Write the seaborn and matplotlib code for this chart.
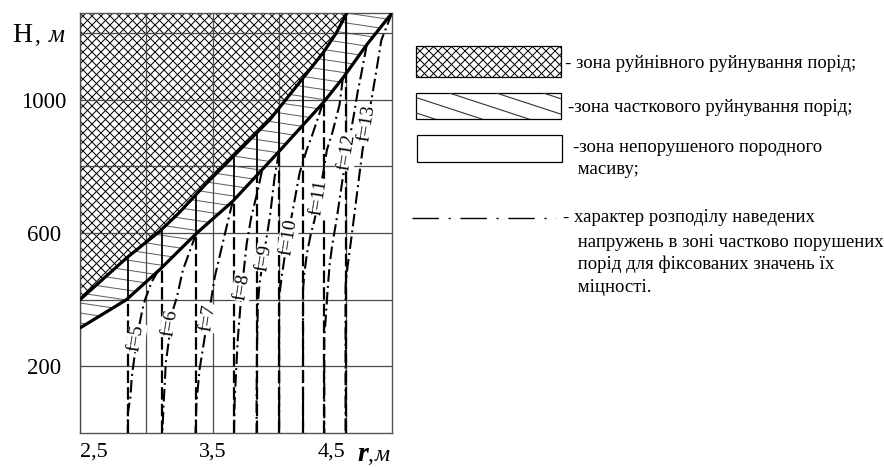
import numpy as np
import matplotlib
matplotlib.use("Agg")
import matplotlib.pyplot as plt
import matplotlib.transforms as mtransforms
from matplotlib.patches import Rectangle, PathPatch
from matplotlib.lines import Line2D
import seaborn as sns

# ---------------- data ----------------
# boundary of the zone of destructive failure (upper thick curve)
upper_r = [2.5, 2.85, 3.1, 3.25, 3.45, 3.68, 3.93, 4.15, 4.33, 4.43, 4.51]
upper_H = [400, 525, 605, 662, 748, 840, 940, 1050, 1140, 1200, 1260]
# boundary of the zone of partial failure (lower thick curve)
lower_r = [2.5, 2.85, 3.1, 3.38, 3.65, 4.0, 4.33, 4.48, 4.66, 4.85]
lower_H = [315, 400, 490, 600, 695, 845, 990, 1065, 1165, 1260]

# vertical lines: radius, height where lower boundary is crossed, height of upper boundary
vert_r = [2.86, 3.12, 3.37, 3.66, 3.83, 4.0, 4.18, 4.34, 4.5]
vert_low = [400, 495, 597, 700, 772, 845, 924, 993, 1075]
vert_top = [525, 613, 712, 832, 900, 972, 1065, 1146, 1252]

# stress distribution curves for fixed strength f
f_names = ["f=5", "f=6", "f=7", "f=8", "f=9", "f=10", "f=11", "f=12", "f=13"]
f5_r = [3.09, 3.04, 2.99, 2.97, 2.94, 2.91, 2.89, 2.88, 2.86, 2.86]
f5_H = [488, 453, 400, 370, 310, 228, 168, 108, 60, 0]
f6_r = [3.375, 3.33, 3.275, 3.23, 3.20, 3.146, 3.14, 3.13, 3.12]
f6_H = [598, 549, 489, 408, 369, 210, 159, 90, 0]
f7_r = [3.65, 3.59, 3.515, 3.49, 3.44, 3.40, 3.377, 3.37]
f7_H = [695, 595, 468, 405, 289, 189, 90, 0]
f8_r = [3.87, 3.84, 3.79, 3.756, 3.718, 3.688, 3.665, 3.66]
f8_H = [785, 729, 648, 570, 429, 279, 99, 0]
f9_r = [4.0, 3.966, 3.93, 3.89, 3.853, 3.84, 3.833, 3.83, 3.83]
f9_H = [845, 768, 648, 549, 450, 390, 250, 100, 0]
f10_r = [4.33, 4.244, 4.207, 4.154, 4.117, 4.079, 4.041, 4.016, 4.0, 4.0]
f10_H = [990, 888, 849, 780, 699, 618, 528, 459, 408, 0]
f11_r = [4.48, 4.455, 4.40, 4.36, 4.315, 4.267, 4.24, 4.21, 4.19, 4.18, 4.18]
f11_H = [1065, 985, 900, 850, 740, 640, 600, 540, 480, 430, 0]
f12_r = [4.66, 4.62, 4.59, 4.56, 4.515, 4.477, 4.432, 4.40, 4.38, 4.365, 4.35, 4.34, 4.34]
f12_H = [1165, 1080, 1020, 948, 849, 759, 639, 564, 504, 429, 339, 288, 0]
f13_r = [4.85, 4.77, 4.733, 4.695, 4.628, 4.583, 4.545, 4.515, 4.5, 4.5]
f13_H = [1260, 1179, 1089, 999, 849, 708, 588, 498, 444, 0]
f_curves = [(f5_r, f5_H), (f6_r, f6_H), (f7_r, f7_H), (f8_r, f8_H), (f9_r, f9_H),
            (f10_r, f10_H), (f11_r, f11_H), (f12_r, f12_H), (f13_r, f13_H)]
# label anchor on each curve
f_lab_r = [2.925, 3.18, 3.465, 3.72, 3.89, 4.07, 4.30, 4.512, 4.664]
f_lab_H = [285, 330, 345, 438, 525, 588, 708, 843, 930]

x_ticks = [2.5, 3.0, 3.5, 4.0, 4.5]
x_ticklabels = ["2,5", "", "3,5", "", "4,5"]
y_ticks = [200, 400, 600, 800, 1000, 1200]
y_ticklabels = ["200", "", "600", "", "1000", ""]

legend_texts = [
    ["- зона руйнівного руйнування порід;"],
    ["-зона часткового руйнування порід;"],
    ["-зона непорушеного породного", " масиву;"],
    ["- характер розподілу наведених", " напружень в зоні частково порушених",
     " порід для фіксованих значень їх", " міцності."],
]

# ---------------- styling ----------------
DPI = 108
S = 100 / DPI          # sizes below are tuned in "points at 100 dpi"
PX = 72 / DPI          # one pixel in points

sns.set_theme(style="white")
plt.rcParams["font.family"] = ["Liberation Serif", "DejaVu Serif"]
plt.rcParams["lines.scale_dashes"] = False
for k in ["text.color", "xtick.color", "ytick.color", "axes.labelcolor"]:
    plt.rcParams[k] = "black"

W, Hpx = 884, 467
AX_W, AX_H = 312, 420
fig = plt.figure(figsize=(W / DPI, Hpx / DPI), dpi=DPI)
fig.patch.set_facecolor("white")
ax = fig.add_axes([80 / W, 34 / Hpx, AX_W / W, AX_H / Hpx])
ax.set_facecolor("white")
ax.set_xlim(2.5, 4.85)
ax.set_ylim(0, 1260)

px_axes = mtransforms.Affine2D().scale(1 / AX_W, 1 / AX_H) + ax.transAxes

# zone of destructive failure: fine cross hatch
cross_zone = ax.fill_between(upper_r, upper_H, 1260, facecolor="none", edgecolor="none",
                             linewidth=0, zorder=1)
cross_patch = PathPatch(cross_zone.get_paths()[0], transform=ax.transData,
                        facecolor="none", edgecolor="none")
ax.add_patch(cross_patch)
for k in range(-int(AX_H / 9) - 2, int(AX_W / 9) + 3):
    x0 = k * 9
    for (xa, xb) in ((x0, x0 + AX_H), (x0 + AX_H, x0)):
        ln = Line2D([xa, xb], [0, AX_H], transform=px_axes, color="black", lw=PX, zorder=1)
        ln.set_clip_path(cross_patch)
        ax.add_line(ln)

# zone of partial failure: slightly sloping grey hatch lines
part_zone = ax.fill(list(upper_r) + list(lower_r[::-1]), list(upper_H) + list(lower_H[::-1]),
                    facecolor="none", edgecolor="none", linewidth=0, zorder=1)[0]
for k in range(-5, int(AX_H / 10) + 40):
    y0 = k * 10
    ln = Line2D([0, AX_W], [y0, y0 - 0.15 * AX_W], transform=px_axes, color="#606060",
                lw=PX, zorder=1)
    ln.set_clip_path(part_zone)
    ax.add_line(ln)

# grid
ax.set_xticks(x_ticks)
ax.set_xticklabels(x_ticklabels)
ax.set_yticks(y_ticks)
ax.set_yticklabels(y_ticklabels)
ax.grid(True, color="#4a4a4a", linewidth=0.9 * S, zorder=2)
ax.set_axisbelow(False)
for s in ax.spines.values():
    s.set_color("#555555")
    s.set_linewidth(1.0 * S)
ax.tick_params(length=0)
ax.tick_params(axis="y", labelsize=16.5 * S, pad=26 * S)
ax.tick_params(axis="x", labelsize=16 * S, pad=7 * S)
for lab in ax.get_yticklabels():
    lab.set_ha("center")
xl = ax.get_xticklabels()
xl[0].set_ha("left")
xl[4].set_ha("right")

# vertical lines
for r, lo, hi in zip(vert_r, vert_low, vert_top):
    ax.plot([r, r], [0, lo], color="black", lw=1.6 * S,
            linestyle=(0, (9 * S, 3 * S)), zorder=3)
    ax.plot([r, r], [lo, hi], color="black", lw=1.3 * S, zorder=3)

# f curves
for (fr, fh) in f_curves:
    ax.plot(fr, fh, color="black", lw=1.5 * S,
            linestyle=(0, (9 * S, 3 * S, 1.4 * S, 3 * S)), zorder=4)

# boundaries
sns.lineplot(x=upper_r, y=upper_H, sort=False, estimator=None, color="black",
             lw=2.3 * S, ax=ax, zorder=5)
sns.lineplot(x=lower_r, y=lower_H, sort=False, estimator=None, color="black",
             lw=2.3 * S, ax=ax, zorder=5)
ax.set_xlabel("")
ax.set_ylabel("")
ax.set_xlim(2.5, 4.85)
ax.set_ylim(0, 1260)

# f labels
for name, lr, lh in zip(f_names, f_lab_r, f_lab_H):
    ax.text(lr, lh, name, rotation=81, rotation_mode="anchor", ha="center", va="center",
            fontsize=14 * S, zorder=6,
            bbox=dict(facecolor="white", edgecolor="none", pad=0.6 * S))

# axis titles
fig.text(12 / W, 1 - 42 / Hpx, "H", fontsize=20 * S, ha="left", va="baseline")
fig.text(34 / W, 1 - 42 / Hpx, ",", fontsize=17 * S, ha="left", va="baseline")
fig.text(49 / W, 1 - 42 / Hpx, "м", fontsize=18 * S, style="italic", ha="left", va="baseline")
fig.text(357 / W, 1 - 461 / Hpx, "r", fontsize=20 * S, style="italic", weight="bold",
         ha="left", va="baseline")
fig.text(367 / W, 1 - 461 / Hpx, ",", fontsize=17 * S, ha="left", va="baseline")
fig.text(375 / W, 1 - 461 / Hpx, "м", fontsize=17 * S, style="italic", ha="left", va="baseline")

# ---------------- legend ----------------
px_fig = mtransforms.Affine2D().scale(1 / W, 1 / Hpx) + fig.transFigure


def fig_rect(x0, y0, x1, y1, **kw):
    rect = Rectangle((x0, Hpx - y1), (x1 - x0), (y1 - y0), transform=px_fig, **kw)
    fig.add_artist(rect)
    return rect


box1 = fig_rect(416, 46, 561, 77, facecolor="white", edgecolor="black", lw=0.9 * S)
for k in range(-6, 20):
    x0 = 400 + k * 9
    for (xa, xb) in ((x0, x0 + 40), (x0 + 40, x0)):
        ln = Line2D([xa, xb], [Hpx - 80, Hpx - 40], transform=px_fig, color="black", lw=PX)
        ln.set_clip_path(box1)
        fig.add_artist(ln)
box2 = fig_rect(416, 93, 561, 119, facecolor="white", edgecolor="black", lw=0.9 * S)
for x0 in range(340, 560, 47):
    ln = Line2D([x0, x0 + 110], [Hpx - 88, Hpx - 124], transform=px_fig,
                color="#333333", lw=0.8 * S)
    ln.set_clip_path(box2)
    fig.add_artist(ln)
fig_rect(417, 135, 562, 162, facecolor="white", edgecolor="black", lw=0.9 * S)
fig.add_artist(Line2D([412, 556], [Hpx - 218, Hpx - 218], transform=px_fig,
                      color="black", lw=1.0 * S,
                      linestyle=(0, (19 * S, 7 * S, 1.5 * S, 7 * S))))

txt_pos = [
    [(565, 63)],
    [(568, 108)],
    [(573, 148), (573, 169)],
    [(563, 218), (573, 242), (573, 264), (573, 287)],
]
for lines, poss in zip(legend_texts, txt_pos):
    for s, (x, y) in zip(lines, poss):
        fig.text(x / W, 1 - y / Hpx, s, fontsize=13.5 * S, ha="left", va="center")

fig.savefig("out.png", dpi=DPI, facecolor="white")
